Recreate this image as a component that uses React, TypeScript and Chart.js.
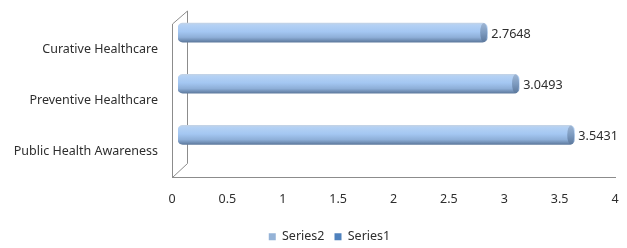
import { useEffect, useRef } from 'react';
import { Chart, registerables } from 'chart.js';

Chart.register(...registerables);

const categories = ['Curative Healthcare', 'Preventive Healthcare', 'Public Health Awareness'];
const series1 = [2.7648, 3.0493, 3.5431];
const series2: (number | null)[] = [null, null, null];
const seriesNames = ['Series2', 'Series1'];
const xMin = 0;
const xMax = 4;
const xStep = 0.5;

const FONT = "'Noto Sans', sans-serif";
const FS = 12.5;
const TEXT = '#2e2e2e';
const LINE = '#8c8c8c';
const DX = 6;
const DY = -17;
const DEPTH_SCALE = 1.01;
const LEGEND_SHIFT_X = 22;
const LEGEND_SHIFT_Y = 5;

const depthPlugin = {
  id: 'depth',
  afterLayout(chart: any) {
    const lg = chart.legend;
    if (lg) {
      lg.left += LEGEND_SHIFT_X;
      lg.right += LEGEND_SHIFT_X;
      lg.top += LEGEND_SHIFT_Y;
      lg.bottom += LEGEND_SHIFT_Y;
    }
  },
  beforeDatasetsDraw(chart: any) {
    const { ctx, chartArea: a } = chart;
    ctx.save();
    ctx.strokeStyle = LINE;
    ctx.lineWidth = 1;
    ctx.beginPath();
    ctx.moveTo(a.left + 0.5, a.top);
    ctx.lineTo(a.left + 15.5, a.top - 13);
    ctx.lineTo(a.left + 15.5, a.bottom - 14);
    ctx.lineTo(a.left + 0.5, a.bottom);
    ctx.stroke();
    ctx.restore();
    ctx.save();
    ctx.translate(DX + a.left * (1 - DEPTH_SCALE), DY);
    ctx.scale(DEPTH_SCALE, 1);
  },
  afterDatasetsDraw(chart: any) {
    const { ctx } = chart;
    const meta = chart.getDatasetMeta(1);
    meta.data.forEach((el: any, i: number) => {
      const v = chart.data.datasets[1].data[i];
      if (v == null) return;
      const h = el.height;
      ctx.save();
      const g = ctx.createLinearGradient(0, el.y - h / 2, 0, el.y + h / 2);
      g.addColorStop(0, '#9fb6d4');
      g.addColorStop(0.5, '#7d9bc0');
      g.addColorStop(1, '#5c789c');
      ctx.fillStyle = g;
      ctx.beginPath();
      ctx.ellipse(el.x - 3.5, el.y, 3.5, h / 2, 0, 0, Math.PI * 2);
      ctx.fill();
      ctx.restore();
      ctx.save();
      ctx.fillStyle = TEXT;
      ctx.font = `${FS}px ${FONT}`;
      ctx.textAlign = 'left';
      ctx.textBaseline = 'middle';
      ctx.fillText(String(v), el.x + 4, el.y + 2);
      ctx.restore();
    });
    ctx.restore();
  },
};

export default function App() {
  const ref = useRef<HTMLCanvasElement | null>(null);
  useEffect(() => {
    document.body.style.margin = '0';
    const canvas = ref.current!;
    const chart = new Chart(canvas, {
      type: 'bar',
      data: {
        labels: categories,
        datasets: [
          {
            label: seriesNames[0],
            data: series2 as any,
            backgroundColor: '#95b3d7',
            grouped: false,
            barThickness: 19,
          } as any,
          {
            label: seriesNames[1],
            data: series1,
            grouped: false,
            barThickness: 19,
            borderRadius: 5,
            borderSkipped: false,
            backgroundColor: (c: any) => {
              if (c.type !== 'data' || !c.chart.chartArea) return '#4f81bd';
              const y = c.chart.scales.y.getPixelForValue(c.dataIndex);
              const g = c.chart.ctx.createLinearGradient(0, y - 9.5, 0, y + 9.5);
              g.addColorStop(0, '#c3d3e6');
              g.addColorStop(0.1, '#b4d1f4');
              g.addColorStop(0.45, '#a4c7f2');
              g.addColorStop(0.75, '#8eafd8');
              g.addColorStop(1, '#5e7a9e');
              return g;
            },
          } as any,
        ],
      },
      options: {
        indexAxis: 'y',
        animation: false,
        responsive: false,
        maintainAspectRatio: false,
        layout: { padding: { left: 0, right: 12, top: 24, bottom: 0 } },
        scales: {
          x: {
            min: xMin,
            max: xMax,
            ticks: {
              stepSize: xStep,
              color: TEXT,
              font: { family: FONT, size: FS },
              padding: 0,
              callback: (v: any) => String(v),
            },
            grid: { display: false, drawTicks: true, tickLength: 14 },
            border: { display: true, color: LINE },
            afterFit: (s: any) => { s.height = 38; },
          },
          y: {
            ticks: { color: TEXT, font: { family: FONT, size: FS }, padding: 14 },
            grid: { display: false, drawTicks: false },
            border: { display: true, color: LINE },
            afterFit: (s: any) => { s.width = 172; },
          },
        },
        plugins: {
          legend: {
            position: 'bottom',
            labels: {
              color: TEXT,
              font: { family: FONT, size: FS },
              boxWidth: 7,
              boxHeight: 7,
              padding: 10,
              generateLabels: (chart: any) =>
                chart.data.datasets.map((d: any, i: number) => ({
                  text: d.label,
                  fillStyle: i === 0 ? '#95b3d7' : '#4f81bd',
                  strokeStyle: i === 0 ? '#95b3d7' : '#4f81bd',
                  lineWidth: 0,
                  hidden: false,
                  datasetIndex: i,
                  fontColor: TEXT,
                })),
            },
          },
          tooltip: { enabled: false },
        },
      },
      plugins: [depthPlugin],
    });
    return () => chart.destroy();
  }, []);
  return (
    <div style={{ position: 'fixed', left: 0, top: 0, width: 627, height: 248, background: '#fff' }}>
      <canvas ref={ref} width={627} height={248} style={{ width: 627, height: 248 }} />
    </div>
  );
}
